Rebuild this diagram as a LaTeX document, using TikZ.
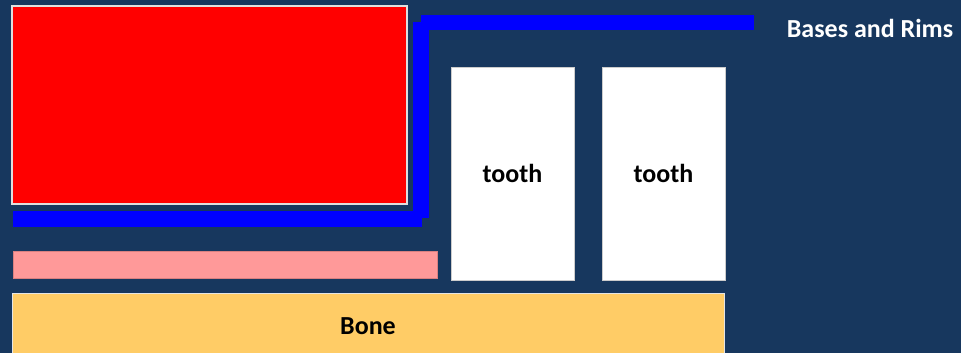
\documentclass[tikz,border=0pt]{standalone}
\usepackage{fontspec}
\setmainfont{Carlito}
\definecolor{navy}{HTML}{17375E}
\definecolor{pinkbar}{HTML}{FF9999}
\definecolor{pinkedge}{HTML}{D98080}
\definecolor{bone}{HTML}{FFCC66}
\definecolor{rimblue}{HTML}{0000FF}
\begin{document}
\begin{tikzpicture}[x=1pt,y=-1pt,
  box/.style={rectangle, inner sep=0pt, outer sep=0pt, font=\fontsize{26}{31}\selectfont\bfseries},
  lbl/.style={inner sep=0pt, font=\fontsize{26}{31}\selectfont\bfseries}]
\fill[navy] (0,0) rectangle (961,353);
\useasboundingbox (0,0) rectangle (961,353);
% blue rim (L-shaped base)
\fill[rimblue] (421,15) rectangle (754,30);
\fill[rimblue] (413,22) rectangle (429,218);
\fill[rimblue] (13,211) rectangle (422,227);
% red block
\node[box, fill=red, draw=gray!25, line width=1.5pt, minimum width=395pt, minimum height=198pt] (redblock) at (209.5,105) {};
% pink bar
\node[box, fill=pinkbar, draw=pinkedge, line width=0.6pt, minimum width=424pt, minimum height=27pt] (pink) at (225,264.5) {};
% teeth
\node[box, fill=white, draw=gray!40, line width=0.6pt, minimum width=123pt, minimum height=213pt] (tooth1) at (512.5,173.5) {tooth};
\node[box, fill=white, draw=gray!40, line width=0.6pt, minimum width=123pt, minimum height=213pt] (tooth2) at (663.5,173.5) {tooth};
% bone
\node[box, fill=bone, draw=gray!20, line width=1pt, minimum width=712pt, minimum height=66pt] (bone) at (368,326) {Bone};
% title
\node[lbl, text=white] (title) at (870,28) {Bases and Rims};
\end{tikzpicture}
\end{document}
